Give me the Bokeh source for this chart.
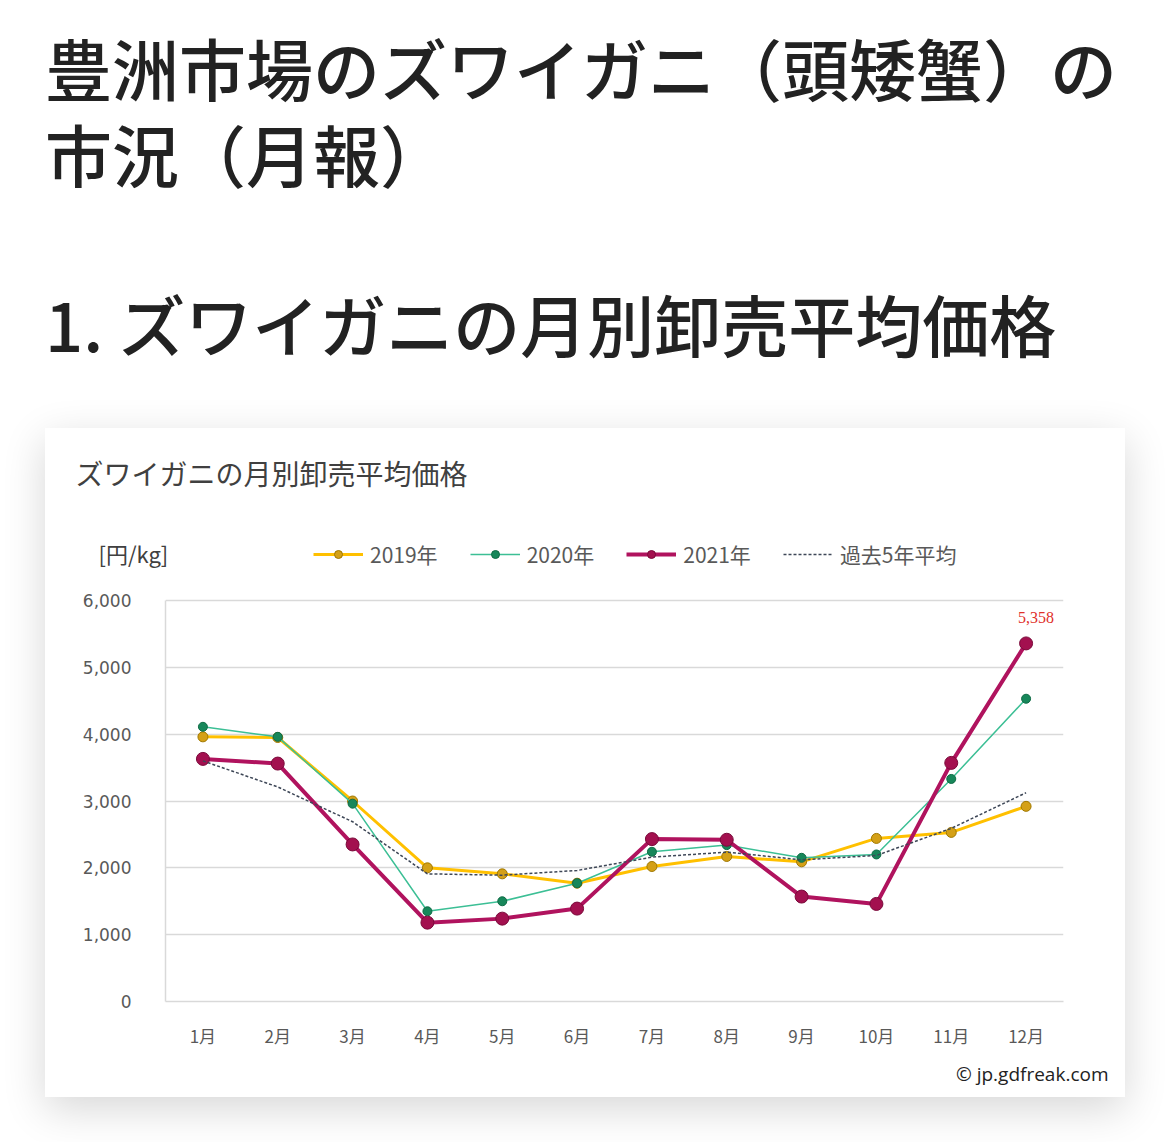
from bokeh.plotting import figure
from bokeh.models import (ColumnDataSource, Range1d, FactorRange, FixedTicker,
                          NumeralTickFormatter, Legend, LegendItem, Title, Label, Div)
from bokeh.layouts import column
from bokeh.core.properties import value
from bokeh.embed import file_html
from bokeh.resources import INLINE

# page headings
heading1 = "豊洲市場のズワイガニ（頭矮蟹）の"
heading2 = "市況（月報）"
heading3 = "1. ズワイガニの月別卸売平均価格"
chart_title = "ズワイガニの月別卸売平均価格"
unit_label = "[円/kg]"
credit = "© jp.gdfreak.com"

months = ["1月", "2月", "3月", "4月", "5月", "6月",
          "7月", "8月", "9月", "10月", "11月", "12月"]

# wholesale average price, yen/kg
price_2019 = [3960, 3950, 3000, 2000, 1910, 1770, 2020, 2170, 2090, 2440, 2530, 2920]
price_2020 = [4110, 3960, 2960, 1350, 1500, 1770, 2240, 2340, 2150, 2200, 3330, 4530]
price_2021 = [3630, 3560, 2350, 1180, 1240, 1390, 2430, 2420, 1570, 1460, 3570, 5358]
avg_5yr = [3600, 3210, 2690, 1910, 1890, 1960, 2160, 2235, 2120, 2185, 2590, 3124]

y_ticks = [0, 1000, 2000, 3000, 4000, 5000, 6000]
y_max = 6000

JP = "Noto Sans CJK JP"

# ---- headings above the chart card
head = Div(
    text=(f'<div style="font-family:\'{JP}\';font-size:67px;font-weight:500;'
          f'line-height:86px;color:#222222;padding-left:45px;padding-top:24px;'
          f'white-space:nowrap">'
          f'<div>{heading1}<br>{heading2}</div>'
          f'<div style="margin-top:84px">{heading3}</div></div>'),
    width=1154, height=428, margin=0)

# ---- chart card
# the frame reaches up to the legend row; the value axis stops at 6,000
plot_h, frame_h = 401, 473
src = ColumnDataSource(dict(m=months, y19=price_2019, y20=price_2020,
                            y21=price_2021, avg=avg_5yr))

p = figure(x_range=FactorRange(*months),
           y_range=Range1d(0, y_max * frame_h / plot_h),
           frame_width=898, frame_height=frame_h,
           min_border_left=120, min_border_right=62,
           min_border_top=100, min_border_bottom=96,
           output_backend="svg", toolbar_location=None,
           margin=(0, 0, 0, 45),
           styles={"box-shadow": "0 12px 40px rgba(0,0,0,0.16)"})
p.outline_line_color = None
p.background_fill_color = "white"
p.border_fill_color = "white"

p.xgrid.visible = False
p.ygrid.grid_line_color = "#d9d9d9"
p.ygrid.grid_line_width = 1.5
p.ygrid.bounds = (0, y_max)
p.yaxis.bounds = (0, y_max)
p.yaxis.ticker = FixedTicker(ticks=y_ticks)
p.yaxis.formatter = NumeralTickFormatter(format="0,0")

for ax in (p.xaxis, p.yaxis):
    ax.axis_line_color = "#d9d9d9"
    ax.axis_line_width = 1.5
    ax.major_tick_line_color = None
    ax.minor_tick_line_color = None
    ax.major_label_text_color = "#595959"
    ax.major_label_text_font_size = "17px"
p.yaxis.major_label_text_font = "DejaVu Sans"
p.yaxis.major_label_standoff = 28
p.xaxis.major_label_text_font = JP
p.xaxis.major_label_standoff = 15

l19 = p.line("m", "y19", source=src, line_color="#ffc000", line_width=3)
s19 = p.scatter("m", "y19", source=src, size=10, fill_color="#d4a017",
                line_color="#a07800", line_width=1)
l20 = p.line("m", "y20", source=src, line_color="#3cbf95", line_width=1.5)
s20 = p.scatter("m", "y20", source=src, size=9, fill_color="#17875a",
                line_color="#0f6b45", line_width=1)
l21 = p.line("m", "y21", source=src, line_color="#b0135e", line_width=4)
s21 = p.scatter("m", "y21", source=src, size=13, fill_color="#a3104f",
                line_color="#7a0a3a", line_width=1)
lav = p.line("m", "avg", source=src, line_color="#3e4757", line_width=1.5,
             line_dash="3 2")

# value label on the December 2021 point
lab = ColumnDataSource(dict(m=[months[-1]], y=[price_2021[-1]],
                            t=["{:,}".format(price_2021[-1])]))
p.text("m", "y", text="t", source=lab, x_offset=10, y_offset=-26,
       text_font=value("Liberation Sans Narrow"), text_font_size="16px",
       text_color="#e0302a", text_align="center", text_baseline="middle")

legend = Legend(items=[LegendItem(label="2019年", renderers=[l19, s19]),
                       LegendItem(label="2020年", renderers=[l20, s20]),
                       LegendItem(label="2021年", renderers=[l21, s21]),
                       LegendItem(label="過去5年平均", renderers=[lav])],
                orientation="horizontal", location=(148, 432),
                glyph_width=50, glyph_height=20, label_standoff=7, spacing=32,
                padding=0, margin=0, border_line_color=None,
                background_fill_alpha=0,
                label_text_font=JP, label_text_font_size="21px",
                label_text_color="#595959")
p.add_layout(legend)

# unit label sits in the top panel, dropped down onto the legend row
p.add_layout(Label(x=-67, y=-24, x_units="screen", y_units="screen",
                   text=unit_label, text_font=JP, text_font_size="22px",
                   text_color="#404040", text_baseline="middle"), "above")
p.add_layout(Title(text=chart_title, align="left", offset=-90, standoff=8,
                   text_font=JP, text_font_size="28px",
                   text_font_style="normal", text_color="#404040"), "above")
p.add_layout(Title(text=credit, align="right", offset=-45, standoff=16,
                   text_font="Open Sans", text_font_size="19px",
                   text_font_style="normal", text_color="#222222"), "below")

page = column(head, p)
open("out.html", "w").write(file_html(page, INLINE))
